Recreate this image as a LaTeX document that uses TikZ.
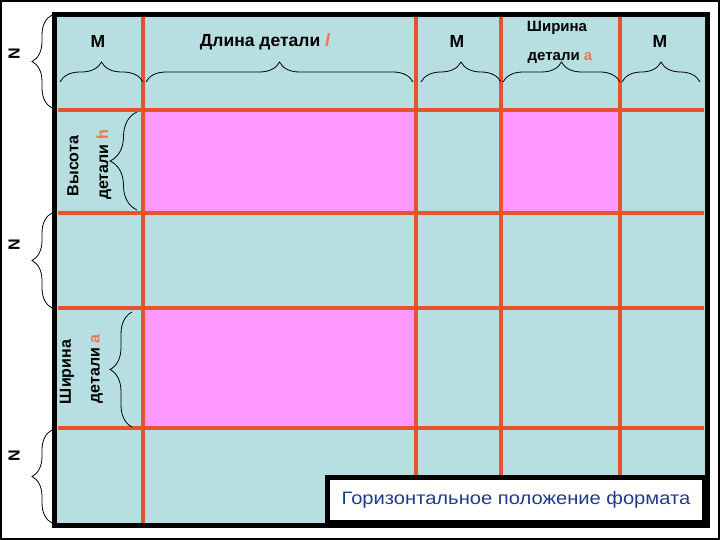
\documentclass[tikz,border=0pt]{standalone}
\usepackage{fontspec}
\setmainfont{Liberation Sans}
\newfontfamily\captionfont[FakeStretch=1.12]{Liberation Sans}
\usetikzlibrary{decorations.pathreplacing}

\definecolor{sheetblue}{RGB}{183,222,224}
\definecolor{cutred}{RGB}{232,82,44}
\definecolor{partpink}{RGB}{255,153,255}
\definecolor{markorange}{RGB}{236,120,80}
\definecolor{captionblue}{RGB}{30,60,140}

\begin{document}
\begin{tikzpicture}[x=1pt, y=-1pt,
    cutline/.style={cutred, line width=4pt},
    dimbrace/.style={decorate, decoration={brace, amplitude=#1}, line width=0.8pt},
    toplabel/.style={font=\fontsize{17.5}{17.5}\selectfont\bfseries, inner sep=0pt},
    sidelabel/.style={font=\fontsize{16}{16}\selectfont\bfseries, inner sep=0pt, rotate=90}]
\useasboundingbox (0,0) rectangle (720,540);
\draw[line width=2pt] (1,1) rectangle (719,539);

% Draw the sheet.
\fill[sheetblue] (54,15) rectangle (707,525);

% Draw the parts.
\fill[partpink] (143,110) rectangle (416,213);
\fill[partpink] (501,110) rectangle (620,213);
\fill[partpink] (143,308) rectangle (416,428);

% Draw cutting lines.
\foreach \x in {143, 416, 501, 620}
    \draw[cutline] (\x, 17) -- (\x, 523);
\foreach \y in {110, 213, 308, 428}
    \draw[cutline] (58, \y) -- (704, \y);

\draw[line width=5pt] (54,15) rectangle (707,525);

% Draw top labels.
\node[toplabel] (m1) at (98,41) {M};
\node[toplabel] (len) at (265,42) {Длина детали \textcolor{markorange}{\itshape l}};
\node[toplabel] (m2) at (457,41) {M};
\node[toplabel, font=\fontsize{15}{15}\selectfont\bfseries] (wid1) at (557,28) {Ширина};
\node[toplabel, font=\fontsize{15}{15}\selectfont\bfseries] (wid2) at (560,58) {детали \textcolor{markorange}{a}};
\node[toplabel] (m3) at (660,41) {M};

\draw[dimbrace=20] (60,82) -- (143,82);
\draw[dimbrace=20] (146,82) -- (413,82);
\draw[dimbrace=20] (421,82) -- (501,82);
\draw[dimbrace=20] (503,82) -- (620,82);
\draw[dimbrace=20] (622,82) -- (700,82);

% Draw left labels.
\node[sidelabel] (n1) at (14,54) {N};
\node[sidelabel] (n2) at (14,245) {N};
\node[sidelabel] (n3) at (14,456) {N};
\draw[dimbrace=20] (52,108) -- (52,15);
\draw[dimbrace=20] (52,308) -- (52,213);
\draw[dimbrace=20] (52,523) -- (52,430);

\node[sidelabel] (hgt1) at (73,166) {Высота};
\node[sidelabel] (hgt2) at (104,165) {детали \textcolor{markorange}{h}};
\draw[dimbrace=27] (137,210) -- (137,112);

\node[sidelabel] (wdl1) at (67,372) {Ширина};
\node[sidelabel] (wdl2) at (97,369) {детали \textcolor{markorange}{a}};
\draw[dimbrace=22] (132,427) -- (132,312);

% Draw the caption.
\node[draw, line width=5pt, fill=white, anchor=south east,
      minimum width=377pt, minimum height=45pt,
      text=captionblue, font=\captionfont\fontsize{18}{18}\selectfont] (caption) at (707,525)
    {Горизонтальное положение формата};

\end{tikzpicture}
\end{document}
